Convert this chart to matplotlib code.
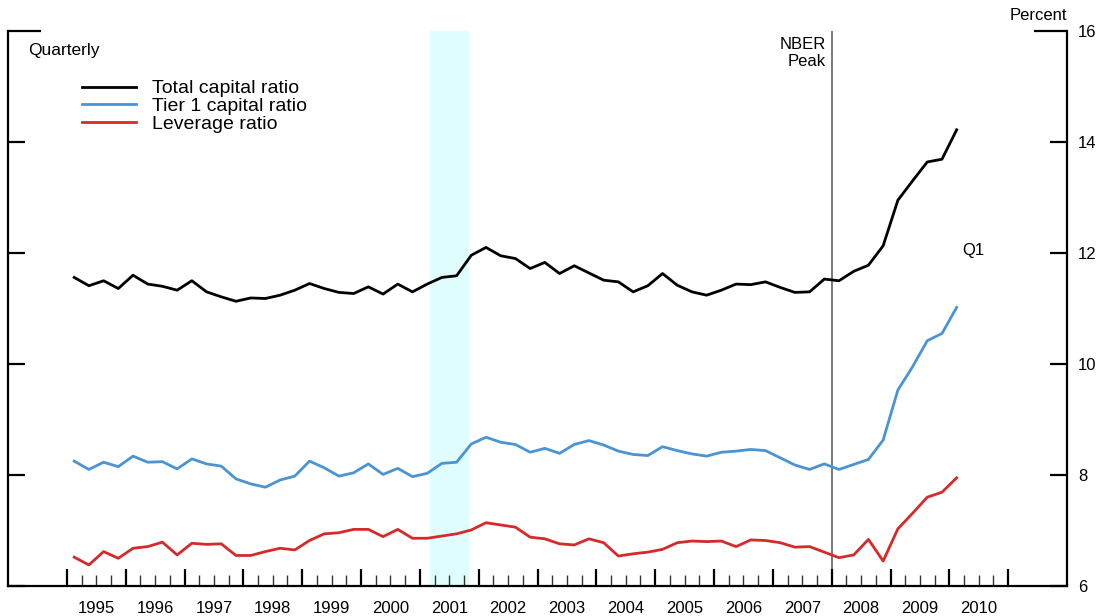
import numpy as np
import matplotlib
matplotlib.use("Agg")
import matplotlib.pyplot as plt
from matplotlib.ticker import FixedLocator, NullFormatter, FixedFormatter
import matplotlib.transforms as mtransforms

plt.rcParams['font.family'] = ['Liberation Sans', 'DejaVu Sans']

# quarterly data, 1995:Q1 to 2010:Q1
first_year = 1995
total_capital = [
    11.56, 11.41, 11.50, 11.36, 11.60, 11.44, 11.40, 11.33,
    11.50, 11.30, 11.21, 11.13, 11.19, 11.18, 11.24, 11.33,
    11.45, 11.36, 11.29, 11.27, 11.39, 11.26, 11.44, 11.30,
    11.44, 11.56, 11.59, 11.96, 12.10, 11.95, 11.90, 11.72,
    11.83, 11.63, 11.77, 11.64, 11.51, 11.48, 11.30, 11.41,
    11.63, 11.42, 11.30, 11.24, 11.33, 11.44, 11.43, 11.48,
    11.38, 11.29, 11.30, 11.53, 11.50, 11.67, 11.78, 12.13,
    12.95, 13.30, 13.64, 13.69, 14.22,
]
tier1_capital = [
    8.25, 8.10, 8.23, 8.15, 8.34, 8.23, 8.24, 8.11,
    8.29, 8.20, 8.16, 7.93, 7.84, 7.78, 7.91, 7.98,
    8.25, 8.13, 7.98, 8.04, 8.20, 8.01, 8.12, 7.97,
    8.03, 8.21, 8.23, 8.56, 8.68, 8.59, 8.55, 8.41,
    8.48, 8.39, 8.55, 8.62, 8.54, 8.43, 8.37, 8.35,
    8.51, 8.44, 8.38, 8.34, 8.41, 8.43, 8.46, 8.44,
    8.31, 8.18, 8.10, 8.20, 8.10, 8.19, 8.28, 8.63,
    9.53, 9.95, 10.42, 10.55, 11.02,
]
leverage = [
    6.52, 6.38, 6.62, 6.50, 6.68, 6.71, 6.79, 6.56,
    6.77, 6.75, 6.76, 6.55, 6.55, 6.62, 6.68, 6.65,
    6.82, 6.94, 6.96, 7.02, 7.02, 6.89, 7.02, 6.86,
    6.86, 6.90, 6.94, 7.01, 7.14, 7.10, 7.06, 6.88,
    6.85, 6.76, 6.74, 6.85, 6.78, 6.54, 6.58, 6.61,
    6.66, 6.78, 6.81, 6.80, 6.81, 6.71, 6.83, 6.82,
    6.78, 6.70, 6.71, 6.61, 6.51, 6.56, 6.84, 6.45,
    7.03, 7.31, 7.60, 7.69, 7.95,
]
series_labels = ['Total capital ratio', 'Tier 1 capital ratio', 'Leverage ratio']
series_colors = ['#000000', '#4a94d4', '#d62a2a']
year_labels = [str(y) for y in range(1995, 2011)]
recession = (2001.17, 2001.83)   # 2001 recession shading
nber_peak = 2008.0

n = len(total_capital)
x = first_year + (np.arange(n) + 0.5) / 4.0

fig = plt.figure(figsize=(11.03, 6.16), dpi=100)
ax = fig.add_axes([8 / 1103, 30 / 616, (1067 - 8) / 1103, (586 - 31) / 616])

ax.axvspan(recession[0], recession[1], color='#e0fdfd', lw=0, zorder=0)
ax.axvline(nber_peak, color='#6e6e6e', lw=1.3, zorder=1)

for vals, lab, col in zip([total_capital, tier1_capital, leverage], series_labels, series_colors):
    ax.plot(x, vals, color=col, lw=2.0, label=lab, zorder=3)

ax.set_xlim(1994, 2012)
ax.set_ylim(6, 16)

# spines
for s in ['left', 'right', 'bottom']:
    ax.spines[s].set_linewidth(1.6)
ax.spines['top'].set_visible(False)

# x ticks: years (major) and quarters (minor), no tick labels
years = np.arange(1995, 2012)
ax.xaxis.set_major_locator(FixedLocator(years))
ax.xaxis.set_minor_locator(FixedLocator([y + q / 4 for y in years[:-1] for q in (1, 2, 3)]))
ax.xaxis.set_major_formatter(NullFormatter())
ax.tick_params(axis='x', which='major', direction='in', length=12.5, width=1.6, color='black')
ax.tick_params(axis='x', which='minor', direction='in', length=8, width=1.0, color='#333333')

trans = mtransforms.blended_transform_factory(ax.transData, ax.transAxes)
for y, lab in zip(range(1995, 2011), year_labels):
    ax.text(y + 0.5, -0.04, lab, transform=trans, ha='center', va='center', fontsize=12)

# y ticks: both sides inward, labels on right, longer cap at 16
ax.yaxis.set_major_locator(FixedLocator([6, 8, 10, 12, 14]))
ax.yaxis.set_minor_locator(FixedLocator([16]))
ax.yaxis.set_minor_formatter(FixedFormatter(['16']))
ax.tick_params(axis='y', which='major', direction='in', length=12, width=1.6,
               left=True, right=True, labelleft=False, labelright=True, labelsize=12, pad=8)
ax.tick_params(axis='y', which='minor', direction='in', length=24, width=1.6,
               left=True, right=True, labelleft=False, labelright=True, labelsize=12, pad=8)

ax.text(1.0, 1.015, 'Percent', transform=ax.transAxes, ha='right', va='bottom', fontsize=12)
ax.text(0.019, 0.965, 'Quarterly', transform=ax.transAxes, ha='left', va='center', fontsize=12.5)
ax.text(nber_peak - 0.1, 15.6, 'NBER\nPeak', ha='right', va='center', fontsize=12,
        linespacing=1.15)
ax.text(2010.22, 12.04, 'Q1', ha='left', va='center', fontsize=12)

leg = ax.legend(loc='upper left', bbox_to_anchor=(0.063, 0.926), frameon=False,
                fontsize=14, handlelength=2.75, handletextpad=0.85, labelspacing=0.0,
                borderaxespad=0)

fig.savefig('out.png', dpi=100)
